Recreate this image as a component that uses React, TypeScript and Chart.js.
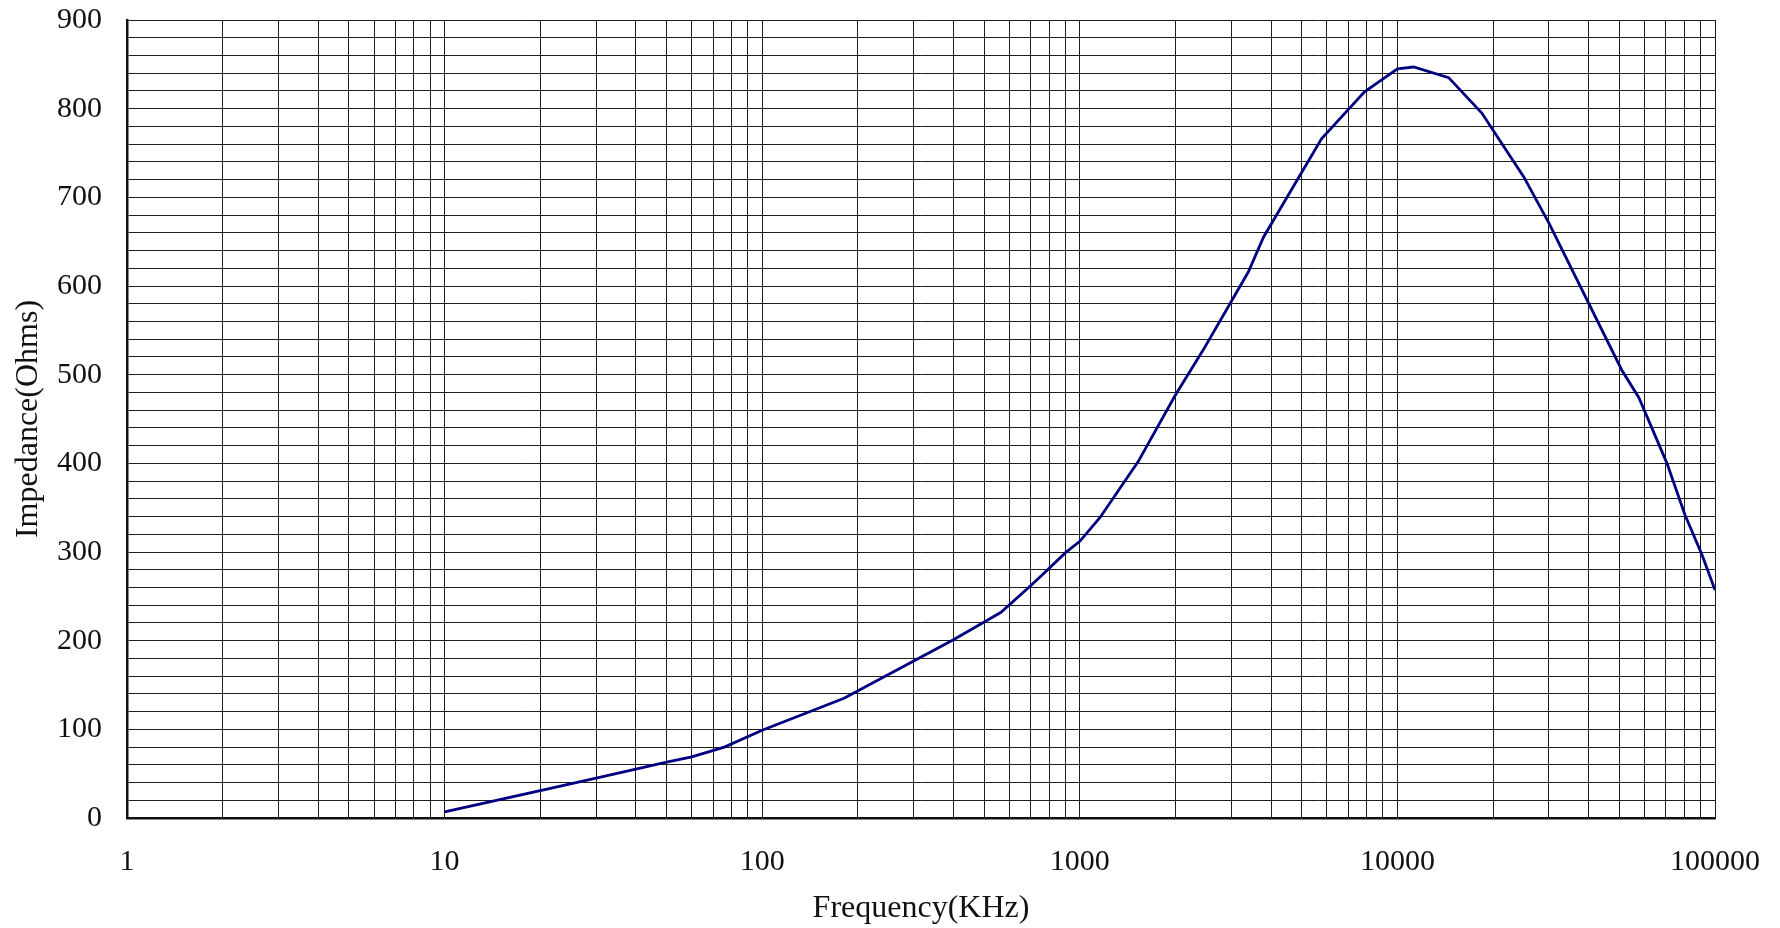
import React, { useEffect, useRef } from "react";
import { Chart, registerables } from "chart.js";

Chart.register(...registerables);

// Frequency (kHz) and impedance (Ohms)
const FREQ_KHZ = [
  10, 20, 30, 40, 50, 60, 76, 100, 181, 300, 400, 500, 565, 700, 745, 900, 1000, 1158,
  1527, 2000, 2448, 3396, 3787, 5768, 7880, 10000, 11250, 14500, 18440, 25000, 30000,
  50900, 57600, 70600, 80400, 91000, 100000,
];
const IMPEDANCE = [
  7, 31, 45, 55, 63, 69, 80, 99, 135, 177, 201, 221, 232, 262, 271, 299, 312, 339,
  402, 477, 528, 616, 655, 766, 819, 845, 847, 835, 795, 723, 671,
  505, 474, 400, 342, 297, 257,
];

// Axis ticks
const X_DECADES = [1, 10, 100, 1000, 10000];
const X_MULTIPLIERS = [1, 2, 3, 4, 5, 6, 7, 8, 9];
const X_LAST = 100000;
const X_TICK_LABELS = [1, 10, 100, 1000, 10000, 100000];
const Y_MIN = 0;
const Y_MAX = 900;
const Y_GRID_STEP = 20;
const Y_LABEL_STEP = 100;

const X_TITLE = "Frequency(KHz)";
const Y_TITLE = "Impedance(Ohms)";

const FONT_FAMILY = "'Liberation Serif', 'DejaVu Serif', serif";
const GRID_COLOR = "#1e1e1e";
const LINE_COLOR = "#000080";

export default function App() {
  const canvasRef = useRef<HTMLCanvasElement | null>(null);

  useEffect(() => {
    document.body.style.margin = "0";
    const canvas = canvasRef.current;
    if (!canvas) return;

    const gridFreqs: number[] = [];
    X_DECADES.forEach((d) => X_MULTIPLIERS.forEach((m) => gridFreqs.push(d * m)));
    gridFreqs.push(X_LAST);

    const chart = new Chart(canvas, {
      type: "line",
      data: {
        datasets: [
          {
            data: FREQ_KHZ.map((f, i) => ({ x: f, y: IMPEDANCE[i] })),
            borderColor: LINE_COLOR,
            borderWidth: 2.8,
            pointRadius: 0,
            tension: 0,
            fill: false,
          },
        ],
      },
      options: {
        animation: false,
        responsive: false,
        devicePixelRatio: 1,
        layout: { padding: 0 },
        plugins: {
          legend: { display: false },
          tooltip: { enabled: false },
        },
        scales: {
          x: {
            type: "logarithmic",
            min: 1,
            max: X_LAST,
            afterBuildTicks: (scale: any) => {
              scale.ticks = gridFreqs.map((v) => ({ value: v }));
            },
            afterFit: (scale: any) => {
              scale.height = 110;
              scale.paddingLeft = 0;
              scale.paddingRight = 65;
            },
            ticks: {
              autoSkip: false,
              maxRotation: 0,
              minRotation: 0,
              padding: 26,
              color: "#111",
              font: { family: FONT_FAMILY, size: 30 },
              callback: (v: any) => (X_TICK_LABELS.includes(Number(v)) ? String(v) : ""),
            },
            grid: {
              color: GRID_COLOR,
              lineWidth: 1,
              drawTicks: false,
            },
            border: { color: "#111", width: 2.5 },
            title: {
              display: true,
              text: X_TITLE,
              color: "#111",
              font: { family: FONT_FAMILY, size: 32 },
              padding: { top: 0, bottom: 0 },
            },
          },
          y: {
            type: "linear",
            min: Y_MIN,
            max: Y_MAX,
            afterFit: (scale: any) => {
              scale.width = 127;
              scale.paddingTop = 20;
              scale.paddingBottom = 0;
            },
            ticks: {
              stepSize: Y_GRID_STEP,
              autoSkip: false,
              padding: 25,
              color: "#111",
              font: { family: FONT_FAMILY, size: 30 },
              callback: (v: any) => (Number(v) % Y_LABEL_STEP === 0 ? String(v) : ""),
            },
            grid: {
              color: GRID_COLOR,
              lineWidth: 1,
              drawTicks: false,
            },
            border: { color: "#111", width: 2.5 },
            title: {
              display: true,
              text: Y_TITLE,
              color: "#111",
              font: { family: FONT_FAMILY, size: 32 },
              padding: { top: 9, bottom: 0 },
            },
          },
        },
      },
    } as any);

    return () => chart.destroy();
  }, []);

  return (
    <canvas
      ref={canvasRef}
      width={1780}
      height={928}
      style={{ position: "absolute", left: 0, top: 0, width: 1780, height: 928, display: "block" }}
    />
  );
}
